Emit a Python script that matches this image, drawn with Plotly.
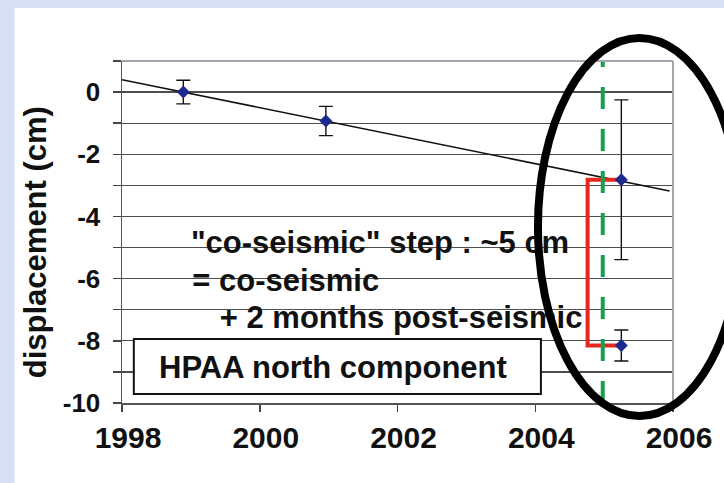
import plotly.graph_objects as go

# ---- data ----
years = [1998.89, 2000.96, 2005.25, 2005.25]
disp = [0.0, -0.93, -2.82, -8.15]
disp_err = [0.38, 0.47, 2.57, 0.50]

trend_years = [1998.0, 2005.95]
trend_disp = [0.40, -3.18]

step_years = [2005.25, 2004.76, 2004.76, 2005.25]
step_disp = [-2.82, -2.82, -8.15, -8.15]

quake_years = [2004.98, 2004.98]
quake_disp = [-10, 1]

x_ticks = [1998, 2000, 2002, 2004, 2006]
y_ticks = list(range(-10, 2))
y_labels = [str(v) if v % 2 == 0 else "" for v in y_ticks]

note_lines = ['"co-seismic" step : ~5 cm', "= co-seismic", "+ 2 months post-seismic"]
note_x = [1999.0, 1999.02, 1999.42]
note_y = [-4.93, -6.15, -7.34]

FONT = "Liberation Sans, Arial, sans-serif"

W, H = 724, 483
ML, MR, MT, MB = 122, 43, 61, 80
PW, PH = W - ML - MR, H - MT - MB


def px_x(p):
    return (p - ML) / PW


def px_y(p):
    return (H - MB - p) / PH


fig = go.Figure()

fig.add_trace(go.Scatter(x=trend_years, y=trend_disp, mode="lines",
                         line=dict(color="#111111", width=1.5), hoverinfo="skip"))
fig.add_trace(go.Scatter(x=step_years, y=step_disp, mode="lines",
                         line=dict(color="#e4281d", width=4), hoverinfo="skip"))
fig.add_trace(go.Scatter(x=quake_years, y=quake_disp, mode="lines",
                         line=dict(color="#17a04c", width=4, dash="22px,20px"),
                         hoverinfo="skip"))
fig.add_trace(go.Scatter(x=years, y=disp, mode="markers",
                         marker=dict(symbol="diamond", size=10, color="#1b2a8e"),
                         error_y=dict(type="data", array=disp_err, visible=True,
                                      color="#111111", thickness=1.4, width=7)))
fig.add_trace(go.Scatter(x=note_x, y=note_y, mode="text", text=note_lines,
                         textposition="middle right",
                         textfont=dict(family=FONT, size=31, color="#111111", weight="bold"),
                         cliponaxis=False, hoverinfo="skip"))

shapes = [
    # white slide panel
    dict(type="rect", xref="paper", yref="paper",
         x0=px_x(13), x1=px_x(740), y0=px_y(500), y1=px_y(8),
         fillcolor="white", line=dict(width=0), layer="below"),
    # light top/right plot border
    dict(type="line", xref="paper", yref="paper", x0=0, x1=1, y0=1, y1=1,
         line=dict(color="#a4a6ae", width=2), layer="above"),
    dict(type="line", xref="paper", yref="paper", x0=1, x1=1, y0=0, y1=1,
         line=dict(color="#a4a6ae", width=2), layer="above"),
    # legend box
    dict(type="rect", xref="paper", yref="paper",
         x0=px_x(134), x1=px_x(547), y0=px_y(394), y1=px_y(339),
         fillcolor="white", line=dict(color="#111111", width=2), layer="above"),
    # black ellipse
    dict(type="circle", xref="paper", yref="paper",
         x0=px_x(544), x1=px_x(750), y0=px_y(416), y1=px_y(38),
         line=dict(color="black", width=8), layer="above"),
]

annotations = [
    dict(text="HPAA north component", xref="paper", yref="paper",
         x=px_x(158), y=px_y(367), xanchor="left", yanchor="middle",
         showarrow=False, font=dict(family=FONT, size=31, color="#111111", weight="bold")),
    dict(text="displacement (cm)", xref="paper", yref="paper",
         x=px_x(35), y=px_y(242), xanchor="center", yanchor="middle", textangle=-90,
         showarrow=False, font=dict(family=FONT, size=31, color="#111111", weight="bold")),
]

fig.update_layout(
    width=W, height=H, autosize=False,
    margin=dict(l=ML, r=MR, t=MT, b=MB, pad=0),
    paper_bgcolor="#d6dff3", plot_bgcolor="#c9cbd3",
    showlegend=False, shapes=shapes, annotations=annotations, hovermode=False,
    xaxis=dict(range=[1998, 2006], tickvals=x_ticks, ticks="outside", ticklen=7,
               tickcolor="#444444", tickwidth=1.5,
               showline=True, linecolor="#555555", linewidth=1.5,
               showgrid=False, zeroline=False, ticklabelstandoff=0, ticklabelshift=6,
               tickfont=dict(family=FONT, size=30, color="#111111", weight="bold")),
    yaxis=dict(range=[-10, 1], tickvals=y_ticks, ticktext=y_labels, ticks="outside",
               ticklen=8, tickcolor="#444444", tickwidth=1.5,
               showline=True, linecolor="#555555", linewidth=1.5,
               showgrid=True, gridcolor="#4d4d4d", gridwidth=1.3, zeroline=False,
               ticklabelstandoff=7,
               tickfont=dict(family=FONT, size=26, color="#111111", weight="bold")),
)

fig.write_html("out.html", config={"displayModeBar": False, "staticPlot": True},
               post_script="document.body.style.margin='0';")
